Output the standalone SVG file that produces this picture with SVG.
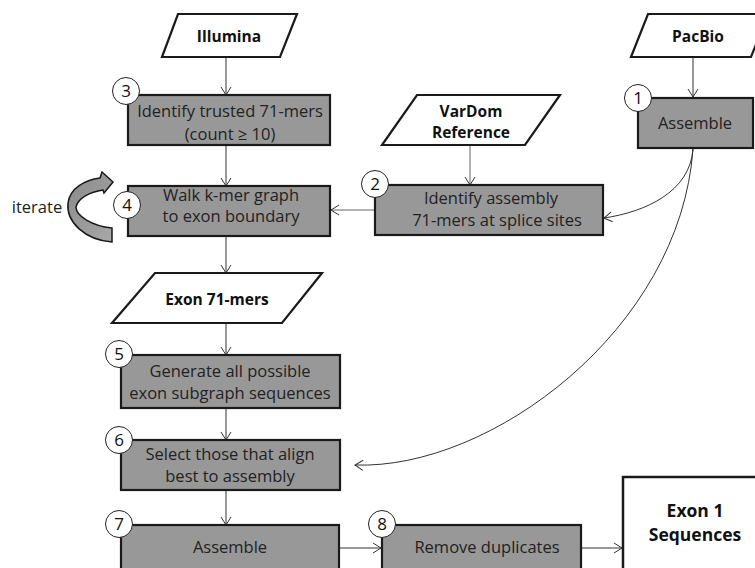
<svg xmlns="http://www.w3.org/2000/svg" width="755" height="568" viewBox="0 0 755 568">
<defs>
<marker id="ah" markerWidth="10" markerHeight="12" refX="9" refY="6" orient="auto" markerUnits="userSpaceOnUse">
<path d="M1,1 L9,6 L1,11" fill="none" stroke="#333" stroke-width="1"/>
</marker>
<linearGradient id="ig" x1="0" y1="0" x2="1" y2="1">
<stop offset="0" stop-color="#8a8a8a"/>
<stop offset="1" stop-color="#a8a8a8"/>
</linearGradient>
</defs>
<style>
.box{fill:#989898;stroke:#1a1a1a;stroke-width:2.2}
.io{fill:#fff;stroke:#1a1a1a;stroke-width:2.2}
.num{fill:#fff;stroke:#222;stroke-width:1}
.t{font-family:"Open Sans","Liberation Sans",sans-serif;font-size:16.5px;fill:#222;text-anchor:middle}
.b{font-family:"Open Sans","Liberation Sans",sans-serif;font-size:15.5px;font-weight:bold;fill:#111;text-anchor:middle}
.n{font-family:"Open Sans","Liberation Sans",sans-serif;font-size:17px;fill:#111;text-anchor:middle}
.c{fill:none;stroke:#333;stroke-width:1;marker-end:url(#ah)}
.cg{fill:none;stroke:#666;stroke-width:1;marker-end:url(#ah)}
</style>
<rect width="755" height="568" fill="#fff"/>

<g id="connectors">
<line class="c" x1="226" y1="58" x2="226" y2="95"/>
<line class="c" x1="226" y1="145" x2="226" y2="186"/>
<line class="c" x1="693" y1="58" x2="693" y2="97"/>
<line class="cg" x1="470" y1="146" x2="470" y2="185"/>
<line class="cg" x1="374" y1="210" x2="331" y2="210"/>
<line class="c" x1="226" y1="236" x2="226" y2="273"/>
<line class="c" x1="226" y1="323" x2="226" y2="355"/>
<line class="c" x1="226" y1="408" x2="226" y2="440"/>
<line class="c" x1="226" y1="490" x2="226" y2="525"/>
<line class="c" x1="340" y1="548" x2="381" y2="548"/>
<line class="c" x1="582" y1="548" x2="622" y2="548"/>
<path class="c" d="M693,149 C690,192 645,212 604,218"/>
<path class="c" d="M693,149 C680,330 490,470 355,465"/>
</g>

<g id="iterate">
<path d="M112,242 C85,240 66,222 68,203 C70,188 85,180 100,178 L102,172 L113,182 L104,193 L103,190 C90,192 78,198 76,207 C76,216 92,226 112,228 Z" fill="url(#ig)" stroke="#1a1a1a" stroke-width="1.5"/>
<text class="t" x="37" y="213">iterate</text>
</g>

<g id="illumina">
<polygon class="io" points="178,14 297,14 280,57 162,57"/>
<text class="b" x="229" y="42">Illumina</text>
</g>

<g id="pacbio">
<polygon class="io" points="648,14 768,14 751,57 631,57"/>
<text class="b" x="698" y="42">PacBio</text>
</g>

<g id="vardom">
<polygon class="io" points="417,95 560,95 525,145 382,145"/>
<text class="b" x="471" y="117">VarDom</text>
<text class="b" x="471" y="138">Reference</text>
</g>

<g id="step1">
<rect class="box" x="638" y="98" width="115" height="50"/>
<circle class="num" cx="638" cy="98" r="13.5"/>
<text class="n" x="638" y="104">1</text>
<text class="t" x="695" y="129">Assemble</text>
</g>

<g id="step2">
<rect class="box" x="375" y="185" width="228" height="50"/>
<circle class="num" cx="375" cy="184" r="13.5"/>
<text class="n" x="375" y="190">2</text>
<text class="t" x="491" y="204">Identify assembly</text>
<text class="t" x="497" y="226">71-mers at splice sites</text>
</g>

<g id="step3">
<rect class="box" x="128" y="95" width="202" height="50"/>
<circle class="num" cx="126" cy="91" r="13.5"/>
<text class="n" x="126" y="97">3</text>
<text class="t" x="230" y="117">Identify trusted 71-mers</text>
<text class="t" x="230" y="140">(count ≥ 10)</text>
</g>

<g id="step4">
<rect class="box" x="128" y="186" width="202" height="50"/>
<circle class="num" cx="127" cy="205" r="13.5"/>
<text class="n" x="127" y="211">4</text>
<text class="t" x="231" y="201">Walk k-mer graph</text>
<text class="t" x="231" y="222">to exon boundary</text>
</g>

<g id="exon71">
<polygon class="io" points="155,273 322,273 282,323 112,323"/>
<text class="b" x="217" y="305">Exon 71-mers</text>
</g>

<g id="step5">
<rect class="box" x="121" y="355" width="219" height="53"/>
<circle class="num" cx="119" cy="354" r="13.5"/>
<text class="n" x="119" y="360">5</text>
<text class="t" x="230" y="377">Generate all possible</text>
<text class="t" x="230" y="399">exon subgraph sequences</text>
</g>

<g id="step6">
<rect class="box" x="121" y="440" width="219" height="50"/>
<circle class="num" cx="119" cy="440" r="13.5"/>
<text class="n" x="119" y="446">6</text>
<text class="t" x="230" y="460">Select those that align</text>
<text class="t" x="230" y="482">best to assembly</text>
</g>

<g id="step7">
<rect class="box" x="121" y="525" width="218" height="60"/>
<circle class="num" cx="119" cy="524" r="13.5"/>
<text class="n" x="119" y="530">7</text>
<text class="t" x="230" y="553">Assemble</text>
</g>

<g id="step8">
<rect class="box" x="382" y="525" width="199" height="60"/>
<circle class="num" cx="382" cy="524" r="13.5"/>
<text class="n" x="382" y="530">8</text>
<text class="t" x="487" y="553">Remove duplicates</text>
</g>

<g id="exon1">
<rect class="io" x="623" y="477" width="150" height="120" style="stroke-width:2.5"/>
<text class="b" x="695" y="517" style="font-size:17.5px">Exon 1</text>
<text class="b" x="695" y="541" style="font-size:17.5px">Sequences</text>
</g>
</svg>
